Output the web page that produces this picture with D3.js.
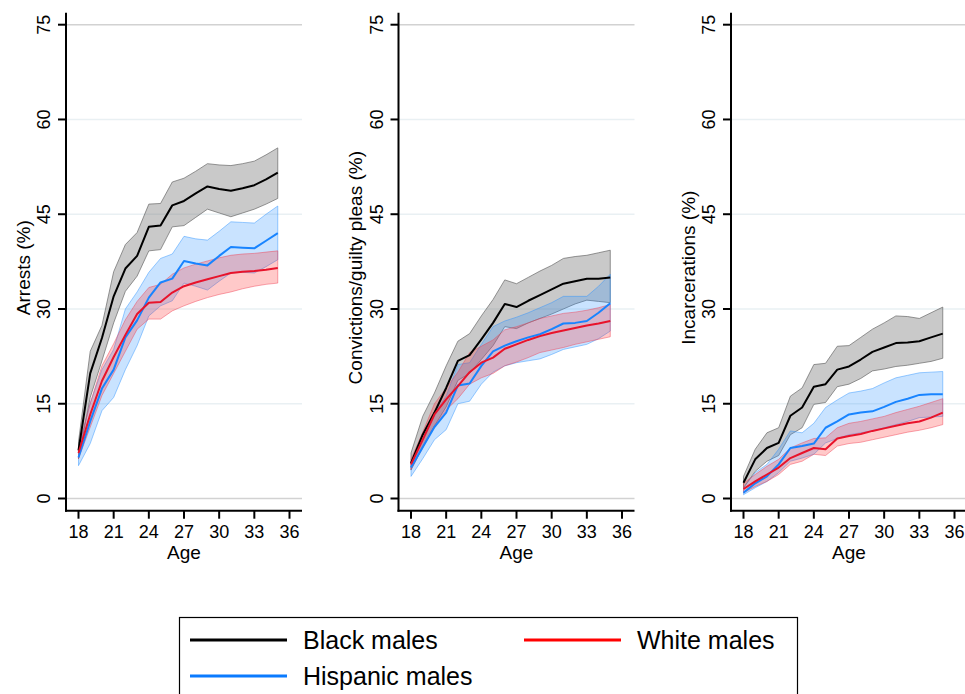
<!DOCTYPE html>
<html>
<head>
<meta charset="utf-8">
<script src="https://cdn.jsdelivr.net/npm/d3@7"></script>
<style>
  body { margin: 0; background: #fff; }
  text { font-family: "Liberation Sans", Arial, Helvetica, sans-serif; fill: #000; }
</style>
</head>
<body>
<svg id="chart" width="965" height="694"></svg>
<script>
const ages = d3.range(18, 36)
const yTicks = [0, 15, 30, 45, 60, 75]
const xTicks = [18, 21, 24, 27, 30, 33, 36]
const panelTitles = ["Arrests (%)", "Convictions/guilty pleas (%)", "Incarcerations (%)"]
const groups = ["Black males", "Hispanic males", "White males"]

// Arrests
const arrBlack   = [7.6, 19.8, 25.4, 32.0, 36.4, 38.4, 43.0, 43.2, 46.4, 47.1, 48.3, 49.4, 49.0, 48.7, 49.1, 49.6, 50.5, 51.6]
const arrBlackLo = [6.3, 16.0, 21.8, 27.8, 32.8, 35.2, 39.2, 39.4, 43.0, 43.2, 44.5, 45.8, 45.2, 44.6, 45.2, 45.8, 46.6, 47.5]
const arrBlackHi = [9.0, 23.3, 27.4, 35.9, 40.2, 42.1, 46.6, 46.7, 50.1, 50.7, 51.8, 53.0, 52.8, 52.7, 53.0, 53.4, 54.4, 55.5]
const arrHisp    = [6.5, 12.2, 17.4, 20.4, 25.5, 28.2, 31.8, 34.2, 34.8, 37.6, 37.2, 36.9, 38.4, 39.8, 39.7, 39.6, 40.8, 42.0]
const arrHispLo  = [5.2, 8.7, 13.9, 16.0, 20.4, 24.2, 28.9, 30.5, 31.3, 34.1, 33.6, 33.0, 34.4, 35.7, 35.8, 35.7, 36.7, 37.8]
const arrHispHi  = [7.8, 15.1, 20.4, 23.6, 30.0, 32.7, 35.8, 38.0, 38.7, 41.5, 41.1, 40.9, 42.3, 43.8, 43.7, 43.6, 45.0, 46.3]
const arrWhite   = [7.2, 13.3, 18.6, 22.4, 25.9, 29.2, 31.0, 31.1, 32.6, 33.6, 34.2, 34.7, 35.2, 35.7, 35.9, 36.0, 36.2, 36.5]
const arrWhiteLo = [6.3, 11.3, 16.3, 19.8, 23.3, 26.8, 28.4, 28.4, 29.7, 30.5, 31.2, 31.8, 32.3, 32.7, 33.2, 33.6, 33.9, 34.1]
const arrWhiteHi = [8.1, 15.1, 21.0, 24.5, 28.3, 31.2, 33.4, 33.9, 35.5, 36.5, 37.1, 37.6, 38.1, 38.5, 38.7, 38.8, 39.0, 39.2]

// Convictions / guilty pleas
const conBlack   = [5.6, 10.1, 13.6, 17.5, 21.8, 22.7, 25.2, 27.8, 30.8, 30.3, 31.3, 32.2, 33.1, 34.0, 34.4, 34.8, 34.8, 35.0]
const conBlackLo = [4.5, 8.2, 11.5, 14.5, 18.7, 19.8, 22.0, 24.2, 27.2, 26.9, 27.8, 28.5, 29.2, 30.0, 30.8, 31.4, 31.2, 31.0]
const conBlackHi = [7.2, 13.0, 16.7, 21.0, 24.9, 26.1, 28.9, 31.5, 34.6, 34.0, 35.0, 36.0, 36.9, 38.0, 38.3, 38.5, 38.9, 39.3]
const conHisp    = [4.9, 8.1, 11.3, 13.6, 17.9, 18.2, 21.0, 23.3, 24.2, 24.9, 25.5, 26.0, 26.8, 27.7, 27.8, 28.1, 29.4, 30.9]
const conHispLo  = [3.5, 6.3, 9.3, 10.9, 15.0, 15.4, 18.1, 20.0, 21.0, 21.5, 21.8, 22.1, 22.8, 23.6, 24.0, 24.4, 25.3, 26.5]
const conHispHi  = [5.6, 9.5, 13.5, 16.2, 21.2, 21.5, 24.4, 27.2, 28.1, 28.7, 29.4, 30.2, 31.0, 32.0, 32.0, 32.0, 33.6, 35.5]
const conWhite   = [5.4, 9.3, 13.3, 15.7, 17.8, 20.0, 21.5, 22.3, 23.7, 24.4, 25.1, 25.7, 26.2, 26.6, 27.0, 27.4, 27.7, 28.1]
const conWhiteLo = [4.6, 8.0, 11.5, 14.0, 15.8, 18.1, 19.1, 19.8, 21.0, 21.6, 22.3, 23.1, 23.5, 23.9, 24.4, 24.8, 25.2, 25.6]
const conWhiteHi = [6.2, 10.5, 15.0, 17.5, 20.0, 23.1, 24.1, 25.1, 26.7, 27.2, 27.8, 28.5, 28.9, 29.3, 29.5, 29.8, 30.2, 30.7]

// Incarcerations
const incBlack   = [2.5, 6.2, 8.0, 8.8, 13.1, 14.4, 17.7, 18.1, 20.4, 20.9, 22.0, 23.2, 23.9, 24.6, 24.7, 24.9, 25.5, 26.1]
const incBlackLo = [1.7, 4.3, 5.9, 6.8, 10.1, 11.2, 14.9, 15.2, 17.7, 18.1, 19.0, 20.2, 20.5, 20.9, 21.1, 21.4, 21.7, 22.2]
const incBlackHi = [3.5, 7.8, 10.4, 11.2, 16.2, 17.5, 21.2, 21.4, 24.1, 24.2, 25.5, 26.8, 27.8, 28.9, 28.8, 28.5, 29.4, 30.3]
const incHisp    = [0.9, 2.4, 3.5, 5.4, 8.0, 8.3, 8.7, 11.2, 12.2, 13.3, 13.6, 13.8, 14.5, 15.3, 15.8, 16.4, 16.5, 16.5]
const incHispLo  = [0.6, 1.7, 2.7, 4.1, 5.9, 6.4, 7.0, 8.8, 9.5, 10.1, 10.4, 10.7, 11.2, 11.7, 12.2, 12.8, 12.9, 13.0]
const incHispHi  = [1.7, 4.1, 5.4, 7.8, 10.7, 10.4, 11.9, 14.4, 15.6, 16.7, 17.0, 17.4, 18.3, 19.1, 19.5, 19.9, 20.0, 20.1]
const incWhite   = [1.5, 2.7, 3.8, 4.9, 6.4, 7.2, 8.0, 7.8, 9.5, 9.9, 10.2, 10.7, 11.1, 11.5, 11.9, 12.2, 12.8, 13.6]
const incWhiteLo = [0.9, 1.9, 2.7, 3.8, 5.4, 5.9, 7.0, 6.8, 8.3, 8.7, 8.9, 9.3, 9.7, 10.1, 10.5, 10.8, 11.2, 11.7]
const incWhiteHi = [2.4, 3.8, 5.1, 6.2, 8.0, 8.8, 9.5, 9.6, 11.2, 11.9, 12.2, 12.6, 13.0, 13.6, 14.1, 14.6, 15.2, 15.8]

const panels = [
  [[arrBlack, arrBlackLo, arrBlackHi], [arrHisp, arrHispLo, arrHispHi], [arrWhite, arrWhiteLo, arrWhiteHi]],
  [[conBlack, conBlackLo, conBlackHi], [conHisp, conHispLo, conHispHi], [conWhite, conWhiteLo, conWhiteHi]],
  [[incBlack, incBlackLo, incBlackHi], [incHisp, incHispLo, incHispHi], [incWhite, incWhiteLo, incWhiteHi]]
]

const lineColors = ["#000000", "#1884ff", "#e8132b"]
const bandFill = ["rgba(120,120,120,0.40)", "rgba(40,145,255,0.25)", "rgba(255,40,40,0.25)"]
const bandStroke = ["rgba(100,100,100,0.75)", "rgba(40,145,255,0.5)", "rgba(240,60,80,0.5)"]
const legendColors = ["#000000", "#0a7bff", "#ff0000"]

const svg = d3.select("#chart")
const axisXs = [66, 398.5, 731]
const plotW = 236
const yTop = 12.7, yBot = 510.7

const y = d3.scaleLinear().domain([0, 75]).range([498.5, 24.7])

axisXs.forEach(function(ax, p) {
  const x = d3.scaleLinear().domain([18, 36]).range([ax + 12.5, ax + 223.5])
  const g = svg.append("g")

  // gridlines
  g.selectAll("line.grid")
    .data(yTicks)
    .join("line")
      .attr("x1", ax).attr("x2", ax + plotW)
      .attr("y1", d => y(d)).attr("y2", d => y(d))
      .attr("stroke", d => (d == 0 || d == 75) ? "#d2d2d2" : "#e9f0f3")
      .attr("stroke-width", 1.6)

  // bands
  panels[p].forEach(function(s, i) {
    const area = d3.area()
      .x((d, k) => x(ages[k]))
      .y0((d, k) => y(s[1][k]))
      .y1((d, k) => y(s[2][k]))
    g.append("path")
      .attr("d", area(ages))
      .attr("fill", bandFill[i])
      .attr("stroke", bandStroke[i])
      .attr("stroke-width", 0.9)
  })

  // lines
  panels[p].forEach(function(s, i) {
    const line = d3.line()
      .x((d, k) => x(ages[k]))
      .y((d, k) => y(s[0][k]))
    g.append("path")
      .attr("d", line(ages))
      .attr("fill", "none")
      .attr("stroke", lineColors[i])
      .attr("stroke-width", 2)
      .attr("stroke-linejoin", "round")
  })

  // axes
  g.append("line")
    .attr("x1", ax).attr("x2", ax).attr("y1", yTop).attr("y2", yBot + 1)
    .attr("stroke", "#000").attr("stroke-width", 2)
  g.append("line")
    .attr("x1", ax - 1).attr("x2", ax + plotW).attr("y1", yBot).attr("y2", yBot)
    .attr("stroke", "#000").attr("stroke-width", 2)

  g.selectAll("line.yt")
    .data(yTicks)
    .join("line")
      .attr("x1", ax - 8).attr("x2", ax)
      .attr("y1", d => y(d)).attr("y2", d => y(d))
      .attr("stroke", "#000").attr("stroke-width", 2)
  g.selectAll("text.yt")
    .data(yTicks)
    .join("text")
      .attr("transform", d => "translate(" + (ax - 16) + "," + y(d) + ") rotate(-90)")
      .attr("text-anchor", "middle")
      .style("font-size", "18px")
      .text(d => d)

  g.selectAll("line.xt")
    .data(xTicks)
    .join("line")
      .attr("x1", d => x(d)).attr("x2", d => x(d))
      .attr("y1", yBot).attr("y2", yBot + 8)
      .attr("stroke", "#000").attr("stroke-width", 2)
  g.selectAll("text.xt")
    .data(xTicks)
    .join("text")
      .attr("x", d => x(d))
      .attr("y", 538.3)
      .attr("text-anchor", "middle")
      .style("font-size", "18px")
      .text(d => d)

  g.append("text")
    .attr("x", ax + 118).attr("y", 559)
    .attr("text-anchor", "middle")
    .style("font-size", "19px")
    .text("Age")

  g.append("text")
    .attr("transform", "translate(" + (ax - 36.5) + "," + ((yTop + yBot) / 2 + 6) + ") rotate(-90)")
    .attr("text-anchor", "middle")
    .style("font-size", "19px")
    .text(panelTitles[p])
})

// legend
const leg = svg.append("g")
leg.append("rect")
  .attr("x", 179.5).attr("y", 617.5).attr("width", 618).attr("height", 100)
  .attr("fill", "#fff").attr("stroke", "#000").attr("stroke-width", 1.2)

const legPos = [[190, 640], [190, 676], [524, 640]]
groups.forEach(function(name, i) {
  leg.append("line")
    .attr("x1", legPos[i][0]).attr("x2", legPos[i][0] + 97)
    .attr("y1", legPos[i][1]).attr("y2", legPos[i][1])
    .attr("stroke", legendColors[i]).attr("stroke-width", 3)
  leg.append("text")
    .attr("x", legPos[i][0] + 113).attr("y", legPos[i][1] + 9)
    .style("font-size", "25px")
    .text(name)
})
</script>
</body>
</html>
